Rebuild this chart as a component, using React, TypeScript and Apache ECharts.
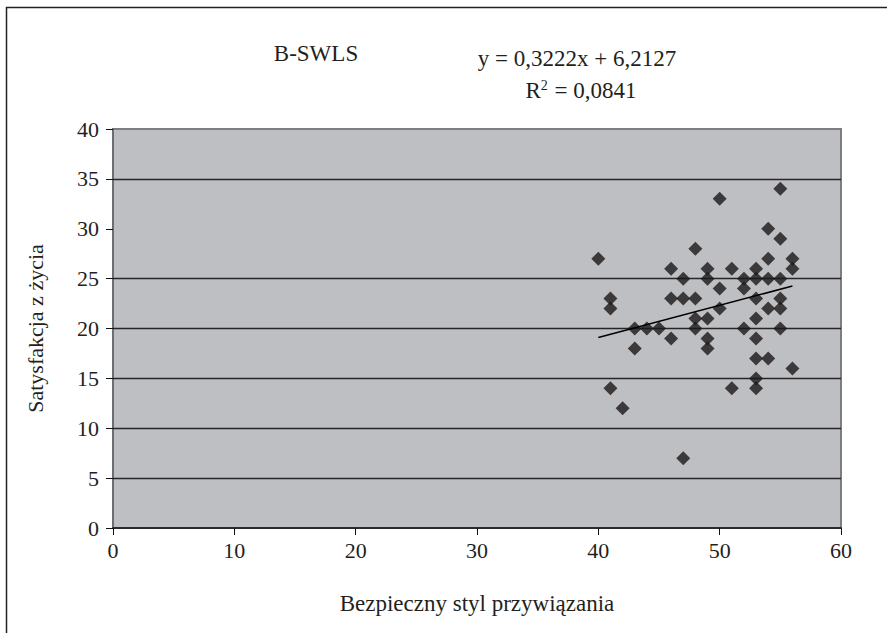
import React, { useEffect, useRef } from "react";
import * as echarts from "echarts";

const xValues = [40, 41, 41, 41, 42, 43, 43, 44, 45, 46, 46, 46, 47, 47, 47, 48, 48, 48, 48, 49, 49, 49, 49, 49, 50, 50, 50, 51, 51, 52, 52, 52, 53, 53, 53, 53, 53, 53, 53, 53, 54, 54, 54, 54, 54, 55, 55, 55, 55, 55, 55, 56, 56, 56];
const yValues = [27, 23, 22, 14, 12, 20, 18, 20, 20, 26, 23, 19, 25, 23, 7, 28, 23, 21, 20, 26, 25, 21, 19, 18, 33, 24, 22, 26, 14, 25, 24, 20, 26, 25, 23, 21, 19, 17, 15, 14, 30, 27, 25, 22, 17, 34, 29, 25, 23, 22, 20, 27, 26, 16];
const slope = 0.3222;
const intercept = 6.2127;
const rSquared = "0,0841";
const gridValues = [5, 10, 15, 20, 25, 35];
const titleText = "B-SWLS";
const xName = "Bezpieczny styl przywiązania";
const yName = "Satysfakcja z życia";

const FONT = "'Liberation Serif', 'Times New Roman', serif";
const INK = "#231f20";

export default function App() {
  const ref = useRef<HTMLDivElement>(null);
  useEffect(() => {
    if (!ref.current) return;
    const chart = echarts.init(ref.current, null, { renderer: "svg" });
    const points = xValues.map((x, i) => [x, yValues[i]]);
    const xMin = Math.min(...xValues);
    const xMax = Math.max(...xValues);
    const trend = [
      [xMin, slope * xMin + intercept],
      [xMax, slope * xMax + intercept],
    ];
    const eq = `y = ${String(slope).replace(".", ",")}x + ${String(intercept).replace(".", ",")}`;
    chart.setOption({
      animation: false,
      backgroundColor: "#ffffff",
      textStyle: { fontFamily: FONT, color: INK },
      grid: {
        left: 113,
        right: 46,
        top: 129,
        bottom: 105,
        show: true,
        backgroundColor: "#bebfc3",
        borderColor: "#7d7d7d",
        borderWidth: 2,
      },
      graphic: [
        {
          type: "rect",
          z: -10,
          silent: true,
          shape: { x: 6.5, y: 7.5, width: 1000, height: 1000 },
          style: { fill: "none", stroke: "#222", lineWidth: 1.5 },
        },
        {
          type: "text",
          x: 316,
          y: 53,
          style: {
            text: titleText,
            fontFamily: FONT,
            fontSize: 23,
            fill: INK,
            textAlign: "center",
            textVerticalAlign: "middle",
          },
        },
        {
          type: "text",
          x: 577,
          y: 58,
          style: {
            text: eq,
            fontFamily: FONT,
            fontSize: 23,
            fill: INK,
            textAlign: "center",
            textVerticalAlign: "middle",
          },
        },
        {
          type: "text",
          x: 581,
          y: 90,
          style: {
            text: `{a|R}{s|2}{a| = ${rSquared}}`,
            fontFamily: FONT,
            fontSize: 23,
            fill: INK,
            textAlign: "center",
            textVerticalAlign: "middle",
            rich: {
              a: { fontFamily: FONT, fontSize: 23, fill: INK },
              s: { fontFamily: FONT, fontSize: 14, fill: INK, verticalAlign: "top", padding: [0, 1, 6, 0] },
            },
          },
        },
      ],
      xAxis: {
        type: "value",
        min: 0,
        max: 60,
        interval: 10,
        name: xName,
        nameLocation: "middle",
        nameGap: 64,
        nameTextStyle: { fontFamily: FONT, fontSize: 23, color: INK },
        axisLine: { show: true, onZero: false, lineStyle: { color: "#111", width: 1.5 } },
        axisTick: { show: true, inside: false, length: 7, lineStyle: { color: "#111", width: 1 } },
        axisLabel: { fontFamily: FONT, fontSize: 22, color: INK, margin: 11 },
        splitLine: { show: false },
      },
      yAxis: {
        type: "value",
        min: 0,
        max: 40,
        interval: 5,
        name: yName,
        nameLocation: "middle",
        nameGap: 67,
        nameTextStyle: { fontFamily: FONT, fontSize: 22, color: INK },
        axisLine: { show: true, onZero: false, lineStyle: { color: "#6e6e6e", width: 2 } },
        axisTick: { show: true, inside: false, length: 7, lineStyle: { color: "#111", width: 1 } },
        axisLabel: { fontFamily: FONT, fontSize: 22, color: INK, margin: 14 },
        splitLine: { show: false },
      },
      series: [
        {
          type: "scatter",
          data: points,
          symbol: "diamond",
          symbolSize: 14,
          itemStyle: { color: "#1b1819" },
          z: 3,
          markLine: {
            silent: true,
            symbol: "none",
            label: { show: false },
            lineStyle: { color: "#262626", type: "solid", width: 1.3 },
            data: gridValues.map((v) => ({ yAxis: v })),
            z: 1,
          },
        },
        {
          type: "line",
          data: trend,
          symbol: "none",
          lineStyle: { color: "#000", width: 1.5 },
          z: 4,
        },
      ],
    });
    return () => chart.dispose();
  }, []);
  return (
    <div
      ref={ref}
      style={{ position: "fixed", left: 0, top: 0, width: 887, height: 633 }}
    />
  );
}
